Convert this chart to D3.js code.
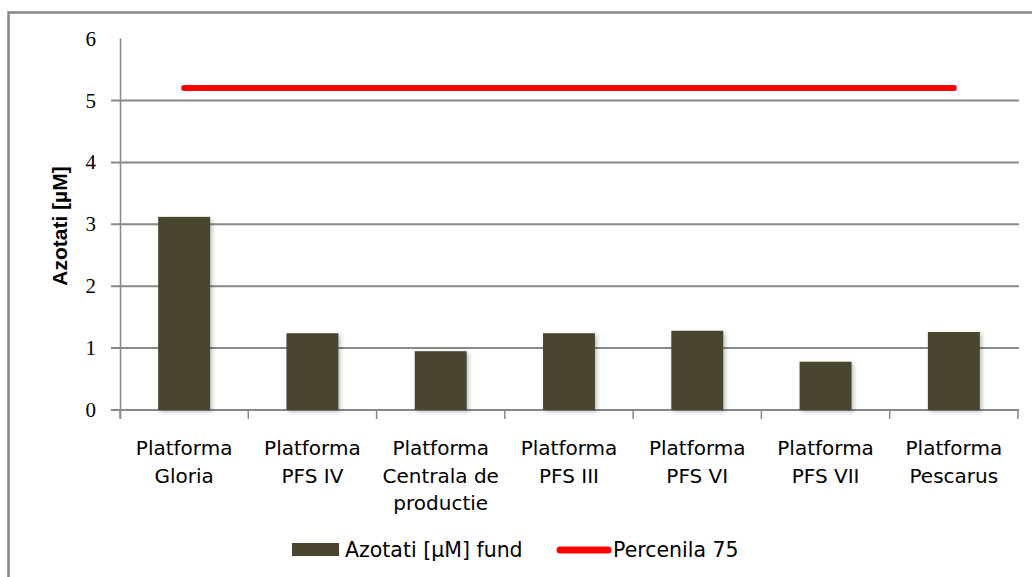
<!DOCTYPE html>
<html>
<head>
<meta charset="utf-8">
<script src="https://cdn.jsdelivr.net/npm/d3@7/dist/d3.min.js"></script>
<style>
  body { margin: 0; background: #fff; }
  svg { display: block; }
</style>
</head>
<body>
<div class="bar_chart"></div>
<script>
const categories = [
  ['Platforma', 'Gloria'],
  ['Platforma', 'PFS IV'],
  ['Platforma', 'Centrala de', 'productie'],
  ['Platforma', 'PFS III'],
  ['Platforma', 'PFS VI'],
  ['Platforma', 'PFS VII'],
  ['Platforma', 'Pescarus']
]
const azotatiFund = [3.12, 1.24, 0.95, 1.24, 1.28, 0.78, 1.26]
const percentila75 = [5.2, 5.2, 5.2, 5.2, 5.2, 5.2, 5.2]
const yTicks = [0, 1, 2, 3, 4, 5, 6]
const seriesNames = ['Azotati [µM] fund', 'Percenila 75']
const yTitle = 'Azotati [µM]'

const width = 1032
const height = 577
const barColor = '#4a452e'
const lineColor = '#ff0000'
const gridColor = '#888888'

const svg = d3.select('.bar_chart').append('svg')
  .attr('width', width)
  .attr('height', height)

// drop shadow like the office chart bars
const defs = svg.append('defs')
defs.append('filter').attr('id', 'shadow')
  .attr('x', '-20%').attr('y', '-20%').attr('width', '150%').attr('height', '150%')
  .append('feDropShadow')
  .attr('dx', 2).attr('dy', 2).attr('stdDeviation', 2)
  .attr('flood-color', '#000').attr('flood-opacity', 0.25)

// outer frame
svg.append('rect')
  .attr('x', 8.5).attr('y', 12.5)
  .attr('width', 1040).attr('height', 600)
  .attr('fill', 'none')
  .attr('stroke', '#868686')
  .attr('stroke-width', 2.5)

const x = d3.scaleBand()
  .domain(d3.range(categories.length))
  .range([120, 1018])
  .paddingInner(0.595)
  .paddingOuter(0.2975)

const y = d3.scaleLinear().domain([0, 6]).range([410, 38.6])

// gridlines (top value has no line)
svg.append('g').selectAll('line')
  .data(yTicks.filter(d => d < 6))
  .enter().append('line')
  .attr('x1', 111).attr('x2', 1019)
  .attr('y1', d => y(d)).attr('y2', d => y(d))
  .attr('stroke', gridColor)
  .attr('stroke-width', 2)

// y axis line
svg.append('line')
  .attr('x1', 120.5).attr('x2', 120.5)
  .attr('y1', y(6)).attr('y2', 419)
  .attr('stroke', gridColor)
  .attr('stroke-width', 1.5)

// x tick marks at category boundaries
const step = x.step()
svg.append('g').selectAll('line')
  .data(d3.range(categories.length + 1))
  .enter().append('line')
  .attr('x1', i => 120 + i * step).attr('x2', i => 120 + i * step)
  .attr('y1', 410).attr('y2', 419)
  .attr('stroke', gridColor)
  .attr('stroke-width', 1.5)

// y tick labels
svg.append('g').selectAll('text')
  .data(yTicks)
  .enter().append('text')
  .attr('x', 96)
  .attr('y', d => y(d) + 7)
  .attr('text-anchor', 'end')
  .attr('font-family', 'Liberation Serif, serif')
  .attr('font-size', 21)
  .attr('fill', '#000')
  .text(d => d)

// y axis title
svg.append('text')
  .attr('transform', 'translate(67,' + 226 + ') rotate(-90)')
  .attr('text-anchor', 'middle')
  .attr('font-family', 'Liberation Sans, Arial, sans-serif')
  .attr('font-weight', 'bold')
  .attr('font-size', 21)
  .text(yTitle)

// bars
svg.append('g').selectAll('rect')
  .data(azotatiFund)
  .enter().append('rect')
  .attr('x', (d, i) => x(i))
  .attr('y', d => y(d))
  .attr('width', x.bandwidth())
  .attr('height', d => y(0) - y(d))
  .attr('fill', barColor)
  .attr('filter', 'url(#shadow)')

// percentile line
const line = d3.line()
  .x((d, i) => x(i) + x.bandwidth() / 2)
  .y(d => y(d))
svg.append('path')
  .datum(percentila75)
  .attr('d', line)
  .attr('fill', 'none')
  .attr('stroke', lineColor)
  .attr('stroke-width', 6)
  .attr('stroke-linecap', 'round')

// category labels
const labels = svg.append('g').selectAll('text')
  .data(categories)
  .enter().append('text')
  .attr('x', (d, i) => x(i) + x.bandwidth() / 2)
  .attr('y', 455)
  .attr('text-anchor', 'middle')
  .attr('font-family', 'DejaVu Sans, sans-serif')
  .attr('font-size', 20)
  .attr('fill', '#000')
labels.selectAll('tspan')
  .data(d => d)
  .enter().append('tspan')
  .attr('x', function () { return d3.select(this.parentNode).attr('x') })
  .attr('dy', (d, i) => i === 0 ? 0 : 27.5)
  .text(d => d)

// legend
const legend = svg.append('g')
legend.append('rect')
  .attr('x', 292).attr('y', 543)
  .attr('width', 47).attr('height', 13)
  .attr('fill', barColor)
legend.append('text')
  .attr('x', 345).attr('y', 557)
  .attr('font-family', 'DejaVu Sans, sans-serif')
  .attr('font-size', 20.5)
  .text(seriesNames[0])
legend.append('line')
  .attr('x1', 560).attr('x2', 608)
  .attr('y1', 550).attr('y2', 550)
  .attr('stroke', lineColor)
  .attr('stroke-width', 7)
  .attr('stroke-linecap', 'round')
legend.append('text')
  .attr('x', 613).attr('y', 557)
  .attr('font-family', 'DejaVu Sans, sans-serif')
  .attr('font-size', 20.5)
  .text(seriesNames[1])
</script>
</body>
</html>
